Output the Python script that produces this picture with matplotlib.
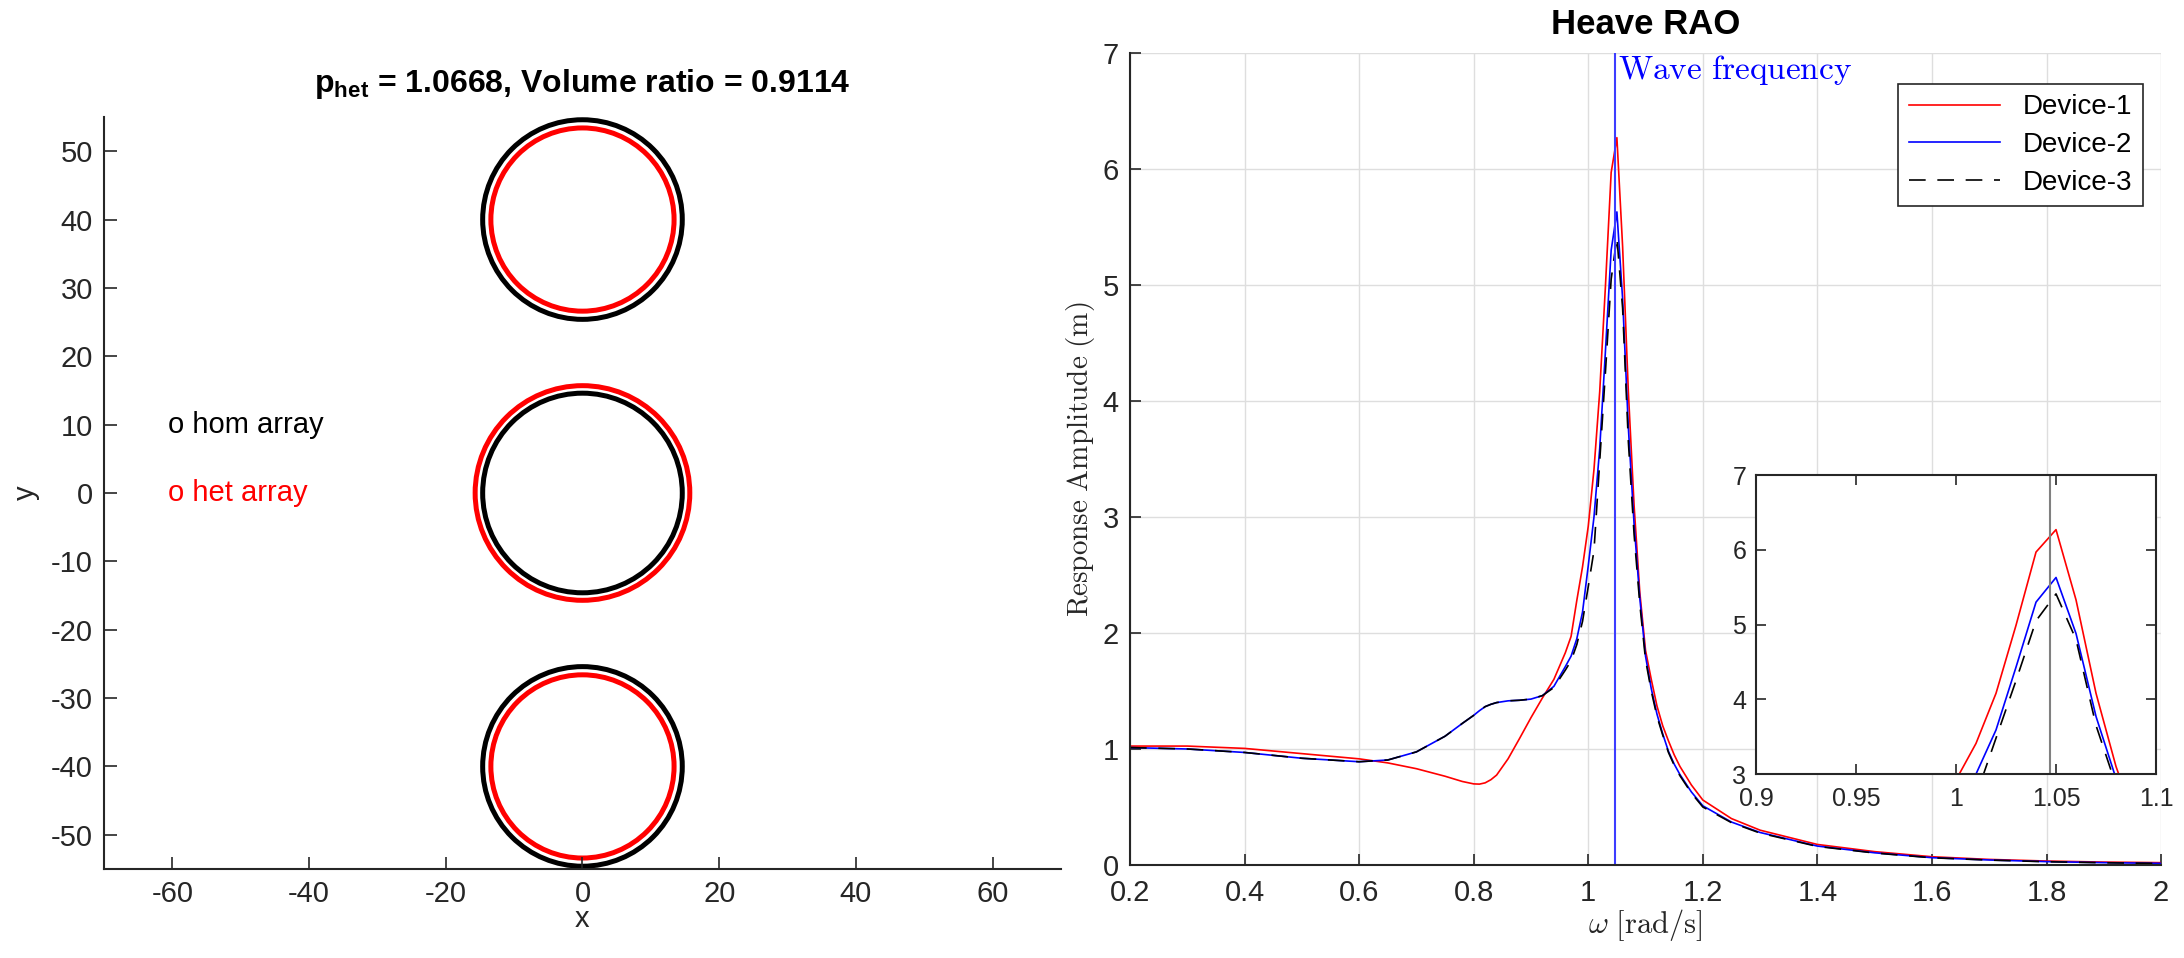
import numpy as np
import matplotlib

matplotlib.use("Agg")
import matplotlib.pyplot as plt  # noqa: E402
from matplotlib.patches import Circle  # noqa: E402

plt.rcParams["font.family"] = ["Liberation Sans", "DejaVu Sans"]
plt.rcParams["mathtext.fontset"] = "cm"
plt.rcParams["mathtext.bf"] = "Liberation Sans:bold"
plt.rcParams["axes.unicode_minus"] = False

# array layout (x, y) centres and radii
centers_y = [40, 0, -40]
r_hom = [14.6, 14.6, 14.6]
r_het = [13.4, 15.7, 13.4]
p_het = 1.0668
vol_ratio = 0.9114

# heave RAO for the three devices
omega = [0.2, 0.3, 0.4, 0.5, 0.6, 0.65, 0.7, 0.75, 0.78, 0.8, 0.81, 0.82, 0.83,
         0.84, 0.86, 0.88, 0.9, 0.92, 0.94, 0.96, 0.97, 0.98, 0.99, 1.00, 1.01,
         1.02, 1.03, 1.04, 1.05, 1.06, 1.07, 1.08, 1.09, 1.10, 1.11, 1.12, 1.13,
         1.14, 1.15, 1.16, 1.18, 1.2, 1.25, 1.3, 1.4, 1.5, 1.6, 1.7, 1.8, 1.9, 2.0]
dev1 = [1.025, 1.025, 1.005, 0.96, 0.915, 0.88, 0.83, 0.765, 0.72, 0.699, 0.697,
        0.708, 0.735, 0.775, 0.915, 1.09, 1.27, 1.44, 1.60, 1.83, 1.97, 2.28,
        2.57, 2.92, 3.41, 4.08, 4.99, 5.97, 6.27, 5.33, 4.08, 3.10, 2.35, 1.85,
        1.60, 1.37, 1.20, 1.07, 0.95, 0.85, 0.69, 0.56, 0.40, 0.30, 0.177, 0.115,
        0.071, 0.048, 0.034, 0.025, 0.02]
dev2 = [1.012, 1.0, 0.97, 0.92, 0.89, 0.905, 0.975, 1.11, 1.22, 1.29, 1.33,
        1.365, 1.385, 1.40, 1.415, 1.42, 1.43, 1.46, 1.54, 1.71, 1.80, 1.95,
        2.18, 2.58, 3.00, 3.59, 4.43, 5.30, 5.63, 4.88, 3.77, 2.94, 2.30, 1.80,
        1.52, 1.30, 1.13, 0.98, 0.87, 0.78, 0.63, 0.51, 0.37, 0.28, 0.163, 0.105,
        0.063, 0.043, 0.029, 0.02, 0.014]
dev3 = [1.012, 1.0, 0.97, 0.92, 0.89, 0.905, 0.975, 1.11, 1.22, 1.29, 1.33,
        1.365, 1.385, 1.40, 1.415, 1.42, 1.43, 1.46, 1.53, 1.68, 1.76, 1.90,
        2.10, 2.40, 2.71, 3.48, 4.25, 5.05, 5.41, 4.80, 3.65, 2.85, 2.25, 1.77,
        1.50, 1.28, 1.12, 0.97, 0.86, 0.77, 0.62, 0.50, 0.365, 0.275, 0.16, 0.103,
        0.062, 0.042, 0.028, 0.019, 0.013]
wave_freq = np.pi / 3

AX_COL = "#262626"
DASH = (0, (10, 7))

fig = plt.figure(figsize=(21.84, 9.58), dpi=100)

# ---- right: heave RAO ----
ax = fig.add_axes([0.5174, 0.0971, 0.4721, 0.8476])
ax.grid(True, color="#dedede", lw=1.0)
ax.set_axisbelow(True)
ax.plot(omega, dev1, color="red", lw=1.2, label="Device-1")
ax.plot(omega, dev2, color="blue", lw=1.2, label="Device-2")
ax.plot(omega, dev3, color="black", lw=1.2, ls=DASH, label="Device-3")
ax.axvline(wave_freq, color="#3d3dff", lw=1.5)
ax.text(wave_freq + 0.005, 6.85, r"$\mathrm{Wave\ frequency}$", color="blue",
        fontsize=24, va="center", ha="left")
ax.set_xlim(0.2, 2)
ax.set_ylim(0, 7)
ax.set_xticks(np.arange(0.2, 2.01, 0.2))
ax.set_xticklabels(["0.2", "0.4", "0.6", "0.8", "1", "1.2", "1.4", "1.6", "1.8", "2"])
ax.tick_params(direction="in", length=8, width=1.2, labelsize=21, colors=AX_COL)
ax.tick_params(axis="x", pad=10)
ax.tick_params(axis="y", pad=8)
for s in ("top", "right"):
    ax.spines[s].set_visible(False)
for s in ("left", "bottom"):
    ax.spines[s].set_color(AX_COL)
    ax.spines[s].set_linewidth(1.5)
ax.set_title("Heave RAO", fontsize=25, fontweight="bold", pad=14)
ax.set_xlabel(r"$\omega\ \mathrm{[rad/s]}$", fontsize=22, color=AX_COL, labelpad=0)
ax.set_ylabel(r"$\mathrm{Response\ Amplitude\ (m)}$", fontsize=21, color=AX_COL, labelpad=4)
leg = ax.legend(loc="upper right", bbox_to_anchor=(0.982, 0.962), borderaxespad=0,
                fontsize=20, handlelength=3.3, labelspacing=0.42, borderpad=0.38,
                fancybox=False, framealpha=1, edgecolor=AX_COL)
leg.get_frame().set_linewidth(1.2)

# inset around the resonance peak
ins = fig.add_axes([0.804, 0.192, 0.1832, 0.3121])
ins.plot(omega, dev1, color="red", lw=1.2)
ins.plot(omega, dev2, color="blue", lw=1.2)
ins.plot(omega, dev3, color="black", lw=1.2, ls=DASH)
ins.axvline(wave_freq, color="#808080", lw=1.5)
ins.set_xlim(0.9, 1.1)
ins.set_ylim(3, 7)
ins.set_xticks([0.9, 0.95, 1.0, 1.05, 1.1])
ins.set_xticklabels(["0.9", "0.95", "1", "1.05", "1.1"])
ins.set_yticks([3, 4, 5, 6, 7])
ins.tick_params(direction="in", length=7, width=1.2, labelsize=18, colors=AX_COL,
                top=True, right=True)
ins.tick_params(axis="x", pad=9)
ins.tick_params(axis="y", pad=7)
for s in ins.spines.values():
    s.set_color(AX_COL)
    s.set_linewidth(1.5)

# ---- left: array layout ----
axl = fig.add_axes([0.0476, 0.0929, 0.4382, 0.785])
axl.set_zorder(5)
for cy, rh, rt in zip(centers_y, r_hom, r_het):
    axl.add_patch(Circle((0, cy), rh, fill=False, ec="black", lw=3.6))
    axl.add_patch(Circle((0, cy), rt, fill=False, ec="red", lw=3.6))
axl.text(-60.6, 10, "o hom array", color="black", fontsize=21, va="center")
axl.text(-60.6, 0, "o het array", color="red", fontsize=21, va="center")
axl.set_xlim(-70, 70)
axl.set_ylim(-55, 55)
axl.set_aspect("equal")
axl.set_xticks(np.arange(-60, 61, 20))
axl.set_yticks(np.arange(-50, 51, 10))
axl.tick_params(direction="in", length=9, width=1.2, labelsize=21, colors=AX_COL, pad=8)
for s in ("top", "right"):
    axl.spines[s].set_visible(False)
for s in ("left", "bottom"):
    axl.spines[s].set_color(AX_COL)
    axl.spines[s].set_linewidth(1.5)
axl.set_xlabel("x", fontsize=21, color=AX_COL, labelpad=-2)
axl.set_ylabel("y", fontsize=21, color=AX_COL, labelpad=8)
axl.set_title(r"$\mathbf{p}_{\mathbf{het}}$" + f" = {p_het:.4f}, Volume ratio = {vol_ratio:.4f}",
              fontsize=23, fontweight="bold", pad=18, math_fontfamily="custom")

fig.savefig("out.png", dpi=100)
